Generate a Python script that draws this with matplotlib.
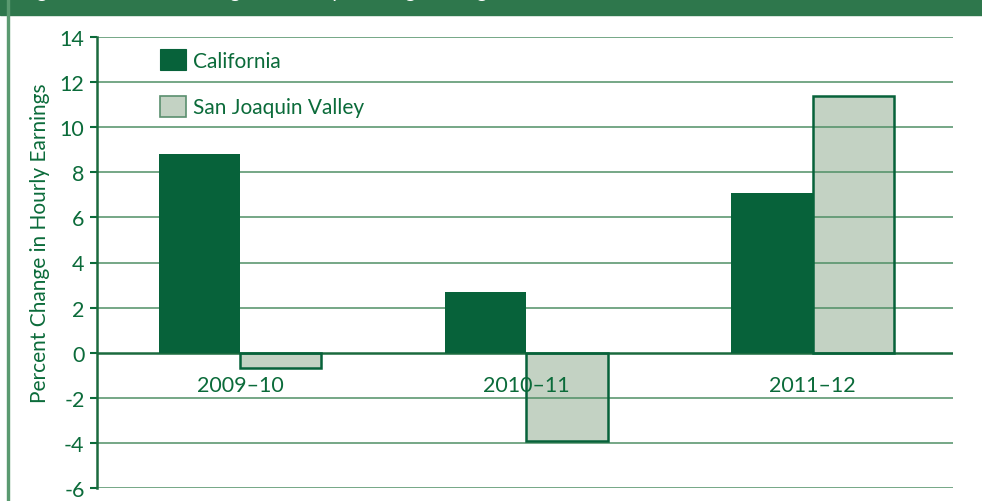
import matplotlib.pyplot as plt
from matplotlib.patches import Patch

# values
periods = ["2009–10", "2010–11", "2011–12"]
california = [8.8, 2.7, 7.1]
san_joaquin = [-0.7, -3.9, 11.4]
y_ticks = [-6, -4, -2, 0, 2, 4, 6, 8, 10, 12, 14]

DARK = "#07623a"
LIGHT = "#c3d2c3"
GRID = "#4f8f66"
TEXT = "#0b6b3a"
HEADER = "#2e774c"

plt.rcParams["font.family"] = ["Lato", "DejaVu Sans"]

fig = plt.figure(figsize=(9.82, 5.02), dpi=100)

# header band and left frame line
fig.patches.append(plt.Rectangle((0, 1 - 16 / 502), 1, 16 / 502, transform=fig.transFigure,
                                 color=HEADER, zorder=0))
fig.patches.append(plt.Rectangle((7 / 982, 0), 1.5 / 982, 1, transform=fig.transFigure,
                                 color="#5a9a70", zorder=0))
fig.text(0.02, 1 + 3 / 502, "Figure 6. Percent Change in Hourly Earnings for Agricultural Workers, 2009–2012",
         color="white", fontsize=15, va="baseline", ha="left")

ax = fig.add_axes([97 / 982, 13 / 502, 856 / 982, 451 / 502])

x = list(range(len(periods)))
w = 0.284
x_ca = [i - w / 2 for i in x]
x_sj = [i + w / 2 for i in x]

ax.bar(x_sj, san_joaquin, w, color=LIGHT, linewidth=0, zorder=1)
for t in y_ticks:
    if t == 0:
        ax.axhline(t, color="#1b6a3e", linewidth=1.8, zorder=1.6)
    else:
        ax.axhline(t, color=GRID, linewidth=1.1, zorder=1.5)
ax.bar(x_ca, california, w, color=DARK, linewidth=0, zorder=2)
ax.bar(x_sj, san_joaquin, w, fill=False, edgecolor=DARK, linewidth=1.8, zorder=2.5)

for i, lab in enumerate(periods):
    ax.text(i, -1.45, lab, ha="center", va="center", fontsize=15.5, color=TEXT, zorder=5)

ax.set_xlim(-0.5, 2.49)
ax.set_ylim(-6, 14)
ax.set_yticks(y_ticks)
ax.set_yticklabels([str(t) for t in y_ticks])
ax.set_xticks([])
ax.tick_params(axis="y", colors=TEXT, labelsize=15.5, length=5, width=1.5, pad=4)

for s in ["top", "right", "bottom"]:
    ax.spines[s].set_visible(False)
ax.spines["left"].set_color("#1b6a3e")
ax.spines["left"].set_linewidth(1.8)

fig.text(40 / 982, 1 - 243 / 502, "Percent Change in Hourly Earnings", rotation=90,
         ha="center", va="center", fontsize=15, color=TEXT)

handles = [Patch(facecolor=DARK, edgecolor=DARK, linewidth=0.8, label="California"),
           Patch(facecolor=LIGHT, edgecolor="#5a8f6e", linewidth=1.2, label="San Joaquin Valley")]
ax.legend(handles=handles, loc="upper left", bbox_to_anchor=(63 / 856, 1 - 12 / 451),
          frameon=False, fontsize=15, handlelength=1.25, handleheight=1.2,
          handletextpad=0.35, labelspacing=1.2, borderpad=0, borderaxespad=0,
          labelcolor=TEXT)

fig.savefig("out.png", dpi=100)
